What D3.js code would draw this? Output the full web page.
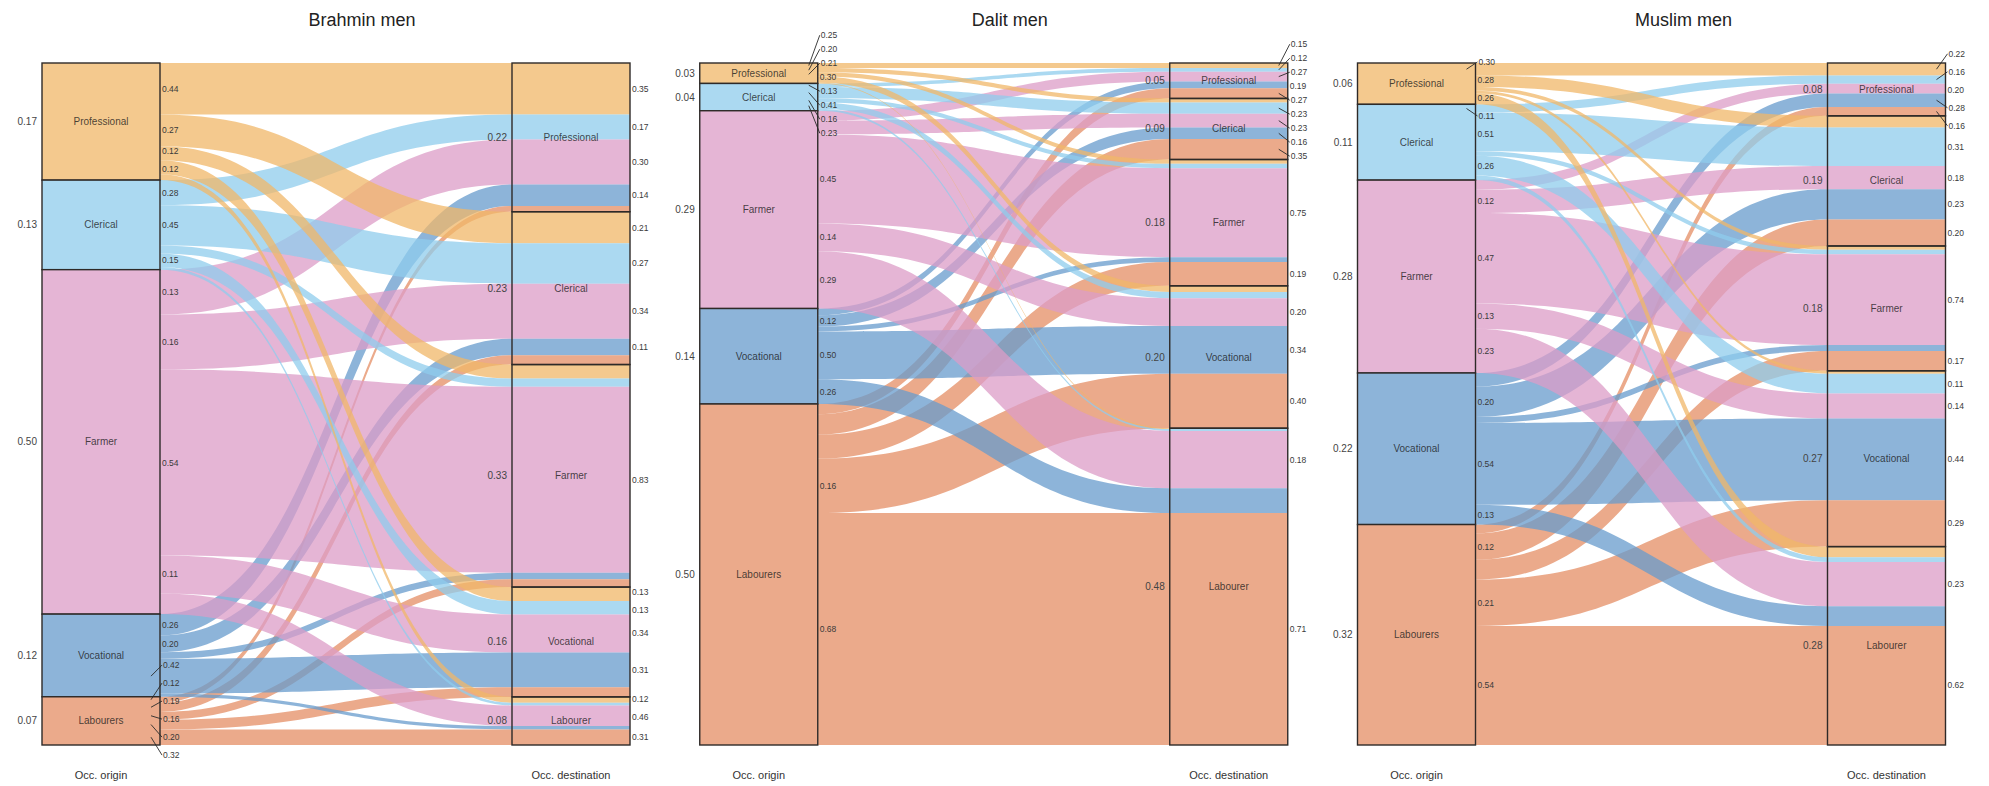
<!DOCTYPE html>
<html><head><meta charset="utf-8">
<script src="https://cdn.jsdelivr.net/npm/d3@7"></script>
<style>
body{margin:0;background:#fff;}
svg{display:block;font-family:"Liberation Sans",Arial,Helvetica,sans-serif;}
</style>
</head><body>
<svg id="chart" width="1989" height="786"></svg>
<script>
// ---------- data ----------
const originCategories = ["Professional","Clerical","Farmer","Vocational","Labourers"];
const destCategories   = ["Professional","Clerical","Farmer","Vocational","Labourer"];
const panelTitles = ["Brahmin men","Dalit men","Muslim men"];
const axisLabels = ["Occ. origin","Occ. destination"];

// Brahmin men
const brahminOriginShare = [0.17,0.13,0.50,0.12,0.07];
const brahminDestShare   = [0.22,0.23,0.33,0.16,0.08];
// rows: origin, columns: destination (share of origin)
const brahminOutShare = [
  [0.44,0.27,0.12,0.12,0.05],
  [0.28,0.45,0.09,0.15,0.03],
  [0.13,0.16,0.54,0.11,0.06],
  [0.26,0.20,0.08,0.42,0.04],
  [0.12,0.19,0.16,0.20,0.32]
];
// rows: destination, columns: origin (share of destination, labelled only)
const brahminInShare = [
  [0.35,0.17,0.30,0.14,null],
  [0.21,0.27,0.34,0.11,null],
  [null,null,0.83,null,null],
  [0.13,0.13,0.34,0.31,null],
  [0.12,null,0.46,null,0.31]
];

// Dalit men
const dalitOriginShare = [0.03,0.04,0.29,0.14,0.50];
const dalitDestShare   = [0.05,0.09,0.18,0.20,0.48];
const dalitOutShare = [
  [0.25,0.20,0.21,0.30,0.04],
  [0.13,0.41,0.16,0.23,0.07],
  [0.05,0.07,0.45,0.14,0.29],
  [0.07,0.12,0.05,0.50,0.26],
  [0.03,0.06,0.07,0.16,0.68]
];
const dalitInShare = [
  [0.15,0.12,0.27,0.19,0.27],
  [null,0.23,0.23,0.16,0.35],
  [null,null,0.75,null,0.19],
  [null,null,0.20,0.34,0.40],
  [null,null,0.18,null,0.71]
];

// Muslim men
const muslimOriginShare = [0.06,0.11,0.28,0.22,0.32];
const muslimDestShare   = [0.08,0.19,0.18,0.27,0.28];
const muslimOutShare = [
  [0.30,0.28,0.09,0.07,0.26],
  [0.11,0.51,0.06,0.26,0.06],
  [0.05,0.12,0.47,0.13,0.23],
  [0.09,0.20,0.04,0.54,0.13],
  [0.04,0.12,0.09,0.21,0.54]
];
const muslimInShare = [
  [0.22,0.16,0.20,0.28,0.16],
  [null,0.31,0.18,0.23,0.20],
  [null,null,0.74,null,0.17],
  [null,0.11,0.14,0.44,0.29],
  [null,null,0.23,null,0.62]
];

// ---------- styles ----------
const stratumColors = ["#F4C98E","#ABD9F1","#E5B5D5","#8DB4D9","#EBAA8B"];
const flowColors    = ["#F0B768","#8FCCEC","#DC9CC7","#679BCC","#E48E64"];
const flowOpacity = 0.75;
const labelThreshold = 0.10;
const titleX = [362, 352, 368]; // title centre within each panel

const panels = [
  {title: panelTitles[0], originShare: brahminOriginShare, destShare: brahminDestShare, out: brahminOutShare, inn: brahminInShare},
  {title: panelTitles[1], originShare: dalitOriginShare,   destShare: dalitDestShare,   out: dalitOutShare,   inn: dalitInShare},
  {title: panelTitles[2], originShare: muslimOriginShare,  destShare: muslimDestShare,  out: muslimOutShare,  inn: muslimInShare}
];

const svg = d3.select("#chart");
const boxW = 118;
const panelOffset = d3.scaleLinear().domain([0,2]).range([0,1315.5]);
const xAxis = d3.scaleLinear().domain([0,1]).range([101,571]);
const yTop = 63, yBottom = 745;
const fmt = d3.format(".2f");

function repel(items, gap){
  items.sort((a,b)=>a.anchor-b.anchor);
  const blocks=[];
  items.forEach(it=>{
    blocks.push({items:[it], start: it.anchor});
    while(blocks.length>1){
      const b=blocks[blocks.length-1], a=blocks[blocks.length-2];
      if(a.start + a.items.length*gap > b.start){
        a.items=a.items.concat(b.items);
        a.start=d3.mean(a.items,(d,k)=>d.anchor-k*gap);
        blocks.pop();
      } else break;
    }
  });
  blocks.forEach(b=>b.items.forEach((d,k)=>d.pos=b.start+k*gap));
}
function layoutLabels(items){
  repel(items,18);
  if(d3.min(items,d=>d.pos) < 36) repel(items,14);
}

panels.forEach((p,pi)=>{
  const g = svg.append("g").attr("transform",`translate(${panelOffset(pi)},0)`);
  const n = originCategories.length;
  const joint = p.out.map((row,i)=>{const s=d3.sum(row); return row.map(v=>p.originShare[i]*v/s);});
  const total = d3.sum(joint.flat());
  const y = d3.scaleLinear().domain([0,total]).range([yTop,yBottom]);

  const oStart=[]; let acc=0;
  for(let i=0;i<n;i++){oStart[i]=acc; acc+=d3.sum(joint[i]);}
  const oEnd = oStart.map((s,i)=>s+d3.sum(joint[i]));
  const dTot = d3.range(n).map(j=>d3.sum(joint,r=>r[j]));
  const dStart=[]; acc=0;
  for(let j=0;j<n;j++){dStart[j]=acc; acc+=dTot[j];}

  const flows=[];
  const oc=oStart.slice();
  const cell = d3.range(n).map(()=>[]);
  for(let i=0;i<n;i++) for(let j=0;j<n;j++){
    cell[i][j]={i,j,v:joint[i][j],o0:oc[i],o1:oc[i]+joint[i][j]}; oc[i]+=joint[i][j];
  }
  const dc=dStart.slice();
  for(let j=0;j<n;j++) for(let i=0;i<n;i++){
    cell[i][j].d0=dc[j]; cell[i][j].d1=dc[j]+joint[i][j]; dc[j]+=joint[i][j];
    flows.push(cell[i][j]);
  }

  const oL = xAxis(0)-boxW/2, oR = xAxis(0)+boxW/2;
  const dL = xAxis(1)-boxW/2, dR = xAxis(1)+boxW/2;
  const xm = (oR+dL)/2;

  // flows
  g.append("g").selectAll("path").data(flows.filter(f=>f.v>0)).join("path")
    .attr("d",f=>{
      const a0=y(f.o0), a1=y(f.o1), b0=y(f.d0), b1=y(f.d1);
      return `M${oR},${a0}C${xm},${a0} ${xm},${b0} ${dL},${b0}L${dR},${b0}L${dR},${b1}L${dL},${b1}C${xm},${b1} ${xm},${a1} ${oR},${a1}Z`;
    })
    .attr("fill",f=>flowColors[f.i])
    .attr("fill-opacity",flowOpacity)
    .attr("stroke","none");

  // origin strata
  const oStrata = d3.range(n).map(i=>({i,y0:oStart[i],y1:oEnd[i]}));
  g.append("g").selectAll("rect").data(oStrata).join("rect")
    .attr("x",oL).attr("width",boxW)
    .attr("y",d=>y(d.y0)).attr("height",d=>y(d.y1)-y(d.y0))
    .attr("fill",d=>stratumColors[d.i])
    .attr("stroke","#2e2a28").attr("stroke-width",1.4);
  // destination strata
  const dStrata = d3.range(n).map(j=>({j,y0:dStart[j],y1:dStart[j]+dTot[j]}));
  g.append("g").selectAll("rect").data(dStrata).join("rect")
    .attr("x",dL).attr("width",boxW)
    .attr("y",d=>y(d.y0)).attr("height",d=>y(d.y1)-y(d.y0))
    .attr("fill","none")
    .attr("stroke","#2e2a28").attr("stroke-width",1.4);

  // stratum names
  g.append("g").selectAll("text").data(oStrata).join("text")
    .attr("x",xAxis(0)).attr("y",d=>y((d.y0+d.y1)/2)).attr("dy","0.35em")
    .attr("text-anchor","middle").attr("font-size",10)
    .attr("fill","#1a1a1a").attr("fill-opacity",0.8)
    .text(d=>originCategories[d.i]);
  g.append("g").selectAll("text").data(dStrata).join("text")
    .attr("x",xAxis(1)).attr("y",d=>y((d.y0+d.y1)/2)).attr("dy","0.35em")
    .attr("text-anchor","middle").attr("font-size",10)
    .attr("fill","#1a1a1a").attr("fill-opacity",0.8)
    .text(d=>destCategories[d.j]);

  // stratum share labels
  g.append("g").selectAll("text").data(oStrata).join("text")
    .attr("x",oL-5).attr("y",d=>y((d.y0+d.y1)/2)).attr("dy","0.35em")
    .attr("text-anchor","end").attr("font-size",10).attr("fill","#444")
    .text(d=>fmt(p.originShare[d.i]));
  g.append("g").selectAll("text").data(dStrata).join("text")
    .attr("x",dL-5).attr("y",d=>y((d.y0+d.y1)/2)).attr("dy","0.35em")
    .attr("text-anchor","end").attr("font-size",10).attr("fill","#444")
    .text(d=>fmt(p.destShare[d.j]));

  // flow share labels (origin side and destination side)
  const outLabels = flows.filter(f=>p.out[f.i][f.j]>=labelThreshold)
    .map(f=>({text:fmt(p.out[f.i][f.j]), anchor:y((f.o0+f.o1)/2)}));
  layoutLabels(outLabels);
  const inLabels = flows.filter(f=>p.inn[f.j][f.i]!=null)
    .map(f=>({text:fmt(p.inn[f.j][f.i]), anchor:y((f.d0+f.d1)/2)}));
  layoutLabels(inLabels);

  [[outLabels,oR],[inLabels,dR]].forEach(([labs,xr])=>{
    const lg=g.append("g");
    lg.selectAll("line").data(labs.filter(d=>Math.abs(d.pos-d.anchor)>2.5)).join("line")
      .attr("x1",xr-9).attr("y1",d=>d.anchor)
      .attr("x2",xr+2).attr("y2",d=>d.pos)
      .attr("stroke","#2a2a2a").attr("stroke-width",0.9);
    lg.selectAll("text").data(labs).join("text")
      .attr("x",d=>Math.abs(d.pos-d.anchor)>2.5? xr+3 : xr+2)
      .attr("y",d=>d.pos).attr("dy","0.35em")
      .attr("font-size",8.5).attr("fill","#3a3a3a")
      .text(d=>d.text);
  });

  // axis labels
  g.append("g").selectAll("text").data(axisLabels).join("text")
    .attr("x",(d,k)=>xAxis(k)).attr("y",779)
    .attr("text-anchor","middle").attr("font-size",11).attr("fill","#333")
    .text(d=>d);

  // title
  g.append("text").attr("x",titleX[pi]).attr("y",26)
    .attr("text-anchor","middle").attr("font-size",18).attr("fill","#222")
    .text(p.title);
});
</script>
</body></html>
